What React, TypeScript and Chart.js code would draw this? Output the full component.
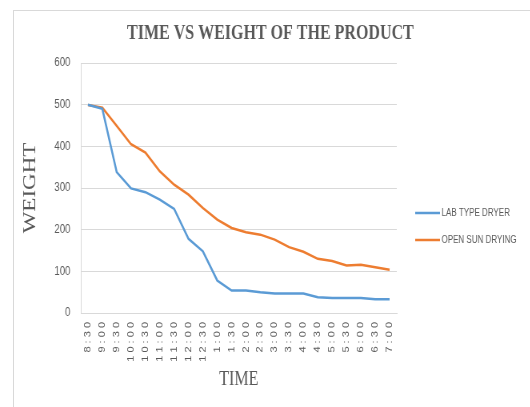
import React, { useEffect, useRef } from "react";
import { Chart, registerables } from "chart.js";

Chart.register(...registerables);

const categories = ["8:30", "9:00", "9:30", "10:00", "10:30", "11:00", "11:30", "12:00", "12:30", "1:00", "1:30", "2:00", "2:30", "3:00", "3:30", "4:00", "4:30", "5:00", "5:30", "6:00", "6:30", "7:00"];
const labTypeDryer = [500, 490, 338, 299, 290, 272, 250, 178, 148, 78, 54, 54, 50, 47, 47, 47, 38, 36, 36, 36, 33, 33];
const openSunDrying = [499, 493, 449, 405, 385, 340, 308, 284, 252, 224, 204, 194, 188, 176, 158, 147, 130, 125, 114, 116, 110, 104];
const yTicks = [0, 100, 200, 300, 400, 500, 600];

const SX = 0.8;
const W = 663;
const H = 407;
const GRAY = "#595959";
const GRID = "#d9d9d9";

const legendPlugin = {
  id: "sideLegend",
  afterDraw(chart: any) {
    const ctx = chart.ctx;
    const x0 = 519;
    const x1 = 550;
    const ys = [213, 240];
    ctx.save();
    chart.data.datasets.forEach((ds: any, i: number) => {
      const y = ys[i];
      ctx.strokeStyle = ds.borderColor;
      ctx.lineWidth = 2.5;
      ctx.beginPath();
      ctx.moveTo(x0, y);
      ctx.lineTo(x1, y);
      ctx.stroke();
      ctx.fillStyle = GRAY;
      ctx.font = "10px 'Liberation Sans', sans-serif";
      ctx.textBaseline = "middle";
      ctx.textAlign = "left";
      ctx.fillText(ds.label, x1 + 2, y + 0.5);
    });
    ctx.restore();
  },
};

export default function App() {
  const ref = useRef<HTMLCanvasElement>(null);
  useEffect(() => {
    if (!ref.current) return;
    const chart = new Chart(ref.current, {
      type: "line",
      data: {
        labels: categories,
        datasets: [
          {
            label: "LAB TYPE DRYER",
            data: labTypeDryer,
            borderColor: "#5B9BD5",
            backgroundColor: "#5B9BD5",
            borderWidth: 2.5,
            pointRadius: 0,
            tension: 0,
            yAxisID: "y",
          },
          {
            label: "OPEN SUN DRYING",
            data: openSunDrying,
            borderColor: "#ED7D31",
            backgroundColor: "#ED7D31",
            borderWidth: 2.5,
            pointRadius: 0,
            tension: 0,
            yAxisID: "y",
          },
        ],
      },
      options: {
        animation: false,
        responsive: false,
        maintainAspectRatio: false,
        devicePixelRatio: 1,
        layout: { padding: { left: 13, right: 0, top: 4, bottom: 0 } },
        plugins: {
          legend: { display: false },
          tooltip: { enabled: false },
          title: {
            display: true,
            text: "TIME VS WEIGHT OF THE PRODUCT",
            color: GRAY,
            font: { family: "'Liberation Serif', serif", size: 20, weight: "bold" },
            padding: { top: 18, bottom: 17 },
          },
        },
        scales: {
          x: {
            offset: true,
            afterFit: (axis: any) => {
              axis.height = 94;
            },
            grid: { display: false, drawTicks: false },
            border: { display: true, color: GRID },
            ticks: {
              autoSkip: false,
              minRotation: 90,
              maxRotation: 90,
              padding: 9,
              color: GRAY,
              font: { family: "'Liberation Sans', sans-serif", size: 11 },
              callback: (_v: any, i: number) => categories[i].split("").join(" "),
            },
            title: {
              display: true,
              text: "TIME",
              color: GRAY,
              font: { family: "'Liberation Serif', serif", size: 20 },
              padding: { top: 15, bottom: 15 },
            },
          },
          y: {
            min: 0,
            max: 600,
            afterFit: (axis: any) => {
              axis.width = 88;
            },
            afterBuildTicks: (axis: any) => {
              axis.ticks = yTicks.map((v) => ({ value: v }));
            },
            grid: { color: GRID, drawTicks: false },
            border: { display: true, color: GRID },
            ticks: {
              padding: 13,
              color: GRAY,
              font: { family: "'Liberation Sans', sans-serif", size: 12 },
            },
            title: {
              display: true,
              text: "WEIGHT",
              color: GRAY,
              font: { family: "'Liberation Serif', serif", size: 23 },
              padding: { top: 11, bottom: 11 },
            },
          },
          yRight: {
            position: "right",
            display: true,
            afterFit: (axis: any) => {
              axis.width = 167;
            },
            grid: { display: false, drawTicks: false },
            border: { display: false },
            ticks: { display: false },
          },
        },
      },
      plugins: [legendPlugin],
    });
    return () => chart.destroy();
  }, []);

  return (
    <>
      <div
        style={{
          position: "absolute",
          left: 13,
          top: 10,
          width: 530 - 13,
          height: H - 10,
          borderTop: `1px solid ${GRID}`,
          borderLeft: `1px solid ${GRID}`,
          boxSizing: "border-box",
        }}
      />
      <div
        style={{
          position: "absolute",
          left: 0,
          top: 0,
          width: W,
          height: H,
          transform: `scaleX(${SX})`,
          transformOrigin: "0 0",
        }}
      >
        <canvas ref={ref} width={W} height={H} style={{ display: "block" }} />
      </div>
    </>
  );
}
